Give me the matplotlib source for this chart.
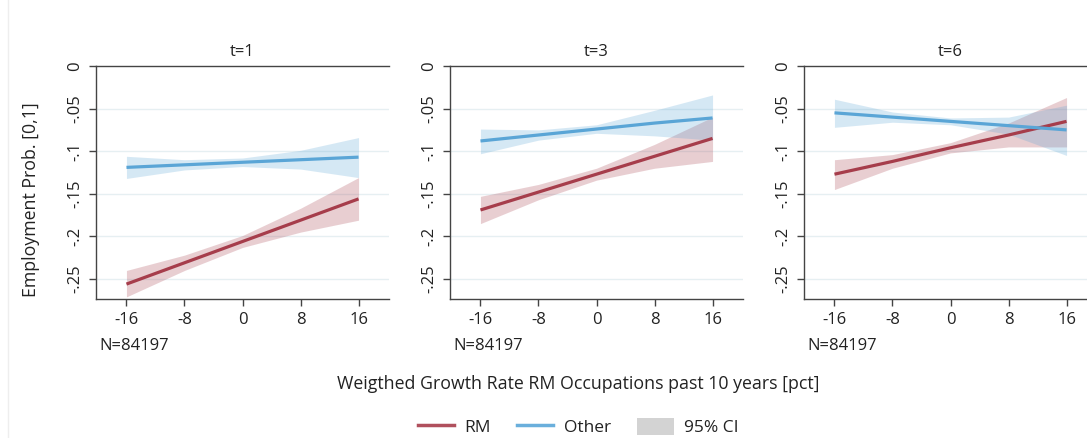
import matplotlib
matplotlib.use('Agg')
import matplotlib.pyplot as plt
from matplotlib.lines import Line2D
from matplotlib.patches import Patch

plt.rcParams['font.family'] = ['Open Sans', 'DejaVu Sans']

x = [-16, -8, 0, 8, 16]
titles = ['t=1', 't=3', 't=6']

rm = [[-0.256, -0.231, -0.206, -0.181, -0.156],
      [-0.169, -0.148, -0.127, -0.106, -0.085],
      [-0.127, -0.112, -0.096, -0.081, -0.065]]
rm_lo = [[-0.271, -0.240, -0.213, -0.195, -0.181],
         [-0.185, -0.157, -0.134, -0.120, -0.112],
         [-0.145, -0.120, -0.102, -0.095, -0.095]]
rm_hi = [[-0.240, -0.222, -0.199, -0.167, -0.131],
         [-0.153, -0.139, -0.120, -0.092, -0.060],
         [-0.110, -0.104, -0.090, -0.067, -0.037]]

other = [[-0.119, -0.116, -0.113, -0.110, -0.107],
         [-0.088, -0.081, -0.074, -0.067, -0.061],
         [-0.055, -0.060, -0.065, -0.070, -0.075]]
other_lo = [[-0.132, -0.122, -0.118, -0.121, -0.131],
            [-0.103, -0.087, -0.079, -0.082, -0.087],
            [-0.072, -0.066, -0.069, -0.080, -0.105]]
other_hi = [[-0.106, -0.110, -0.108, -0.099, -0.084],
            [-0.074, -0.075, -0.069, -0.052, -0.034],
            [-0.039, -0.054, -0.061, -0.060, -0.046]]

n_obs = 'N=84197'
yticks = [0, -0.05, -0.1, -0.15, -0.2, -0.25]
ytick_labels = ['0', '-.05', '-.1', '-.15', '-.2', '-.25']

RM_COL = '#a63d4b'
OT_COL = '#5aa5d6'
TXT = '#222222'

fig = plt.figure(figsize=(10.87, 4.38), dpi=100)
fig.add_artist(Line2D([8 / 1087, 8 / 1087], [0, 1], color='#eeeeee', lw=1))

lefts = [96, 450, 804]
for i in range(3):
    ax = fig.add_axes([lefts[i] / 1087, 1 - 299 / 438, 293 / 1087, 233 / 438])
    ax.fill_between(x, rm_lo[i], rm_hi[i], color=RM_COL, alpha=0.25, lw=0)
    ax.fill_between(x, other_lo[i], other_hi[i], color=OT_COL, alpha=0.25, lw=0)
    ax.plot(x, rm[i], color=RM_COL, lw=2.3, solid_capstyle='butt')
    ax.plot(x, other[i], color=OT_COL, lw=2.3, solid_capstyle='butt')
    ax.set_xlim(-20.2, 20.2)
    ax.set_ylim(-0.2735, 0)
    ax.set_xticks(x)
    ax.set_xticklabels([str(v) for v in x], fontsize=12, color=TXT)
    ax.set_yticks(yticks)
    ax.set_yticklabels(ytick_labels, fontsize=12, color=TXT, rotation=90, va='center')
    for t in yticks[1:]:
        ax.axhline(t, color='#e6eff2', lw=1, zorder=0)
    ax.spines['right'].set_visible(False)
    for s in ['left', 'bottom', 'top']:
        ax.spines[s].set_color('#444444')
        ax.spines[s].set_linewidth(1)
    ax.tick_params(direction='out', length=5, width=1, color='#444444', pad=4)
    ax.set_title(titles[i], fontsize=12, color=TXT, pad=7)
    ax.text(0.013, -0.2, n_obs, transform=ax.transAxes, fontsize=12, color=TXT,
            ha='left', va='center')

fig.text(31 / 1087, 1 - 200 / 438, 'Employment Prob. [0,1]', rotation=90,
         ha='center', va='center', fontsize=12.8, color=TXT)
fig.text(578 / 1087, 1 - 384 / 438, 'Weigthed Growth Rate RM Occupations past 10 years [pct]',
         ha='center', va='center', fontsize=12.8, color=TXT)

handles = [Line2D([], [], color='#b0505d', lw=2.5),
           Line2D([], [], color='#6aafdc', lw=2.5),
           Patch(facecolor='#d3d3d3', edgecolor='none')]
fig.legend(handles, ['RM', 'Other', '95% CI'], loc='center', ncol=3,
           bbox_to_anchor=(578 / 1087, 1 - 427 / 438), frameon=False,
           fontsize=12.5, handlelength=2.1, handleheight=1.1, columnspacing=1.5,
           handletextpad=0.6, labelcolor=TXT)

fig.savefig('out.png', dpi=100)
